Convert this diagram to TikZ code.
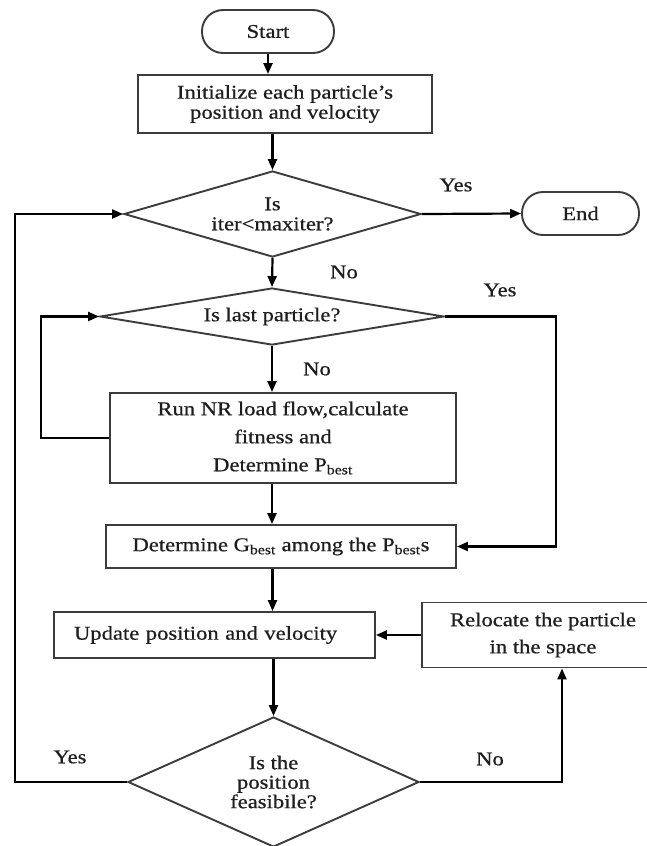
\documentclass[tikz,border=0pt]{standalone}
\usepackage{fontspec}
\setmainfont[FakeStretch=1.16,FakeBold=0.6]{Liberation Serif}
\usetikzlibrary{shapes.geometric,arrows.meta}
\definecolor{boxline}{HTML}{3C3C3C}
\definecolor{txt}{HTML}{1E1E1E}
\begin{document}
\begin{tikzpicture}[x=1pt,y=-1pt,
  every node/.style={text=txt,font=\fontsize{19.5}{20}\selectfont},
  base/.style={draw=boxline,line width=1.9pt,inner sep=0pt,align=center},
  proc/.style={base,rectangle},
  term/.style={base,rectangle,rounded corners=21pt},
  dec/.style={base,diamond},
  lbl/.style={inner sep=0pt},
  arr/.style={line width=2.2pt,draw=black,-{Triangle[length=11pt,width=9pt]}},
  ln/.style={line width=2.2pt,draw=black}]
\useasboundingbox[fill=white] (0,0) rectangle (647,846);
\node[term,minimum width=132pt,minimum height=43pt] (start) at (268,31.5) {Start};
\node[proc,minimum width=294pt,minimum height=58pt] (init) at (285,104) {Initialize each particle's\\position and velocity};
\node[dec,minimum width=297pt,minimum height=86pt,shape aspect=3.4] (d1) at (272.5,214) {Is\\iter<maxiter?};
\node[term,minimum width=117pt,minimum height=43pt] (end) at (580.5,213.5) {End};
\node[dec,minimum width=344pt,minimum height=57pt,shape aspect=6] (d2) at (272,316.5) {Is last particle?};
\node[proc,minimum width=346pt,minimum height=90pt,font=\fontsize{19.5}{28}\selectfont] (b3) at (283,438) {Run NR load flow,calculate\\fitness and\\Determine P\textsubscript{best}};
\node[proc,minimum width=350pt,minimum height=43pt] (gb) at (281,546.5) {Determine G\textsubscript{best} among the P\textsubscript{best}s};
\node[proc,minimum width=321pt,minimum height=46pt,inner xsep=20pt,text width=281pt,align=left] (up) at (214.5,635) {Update position and velocity};
\node[proc,minimum width=242pt,minimum height=65pt,font=\fontsize{19.5}{27}\selectfont] (rl) at (543,635) {Relocate the particle\\in the space};
\node[dec,minimum width=291pt,minimum height=130pt,shape aspect=2.24,font=\fontsize{19.5}{19.5}\selectfont] (d3) at (273.5,782) {Is the\\position\\feasibile?};
\node[lbl] (y1) at (456,185) {Yes};
\node[lbl] (n1) at (344,272) {No};
\node[lbl] (y2) at (500,290) {Yes};
\node[lbl] (n2) at (317,369) {No};
\node[lbl] (y3) at (70,757) {Yes};
\node[lbl] (n3) at (490,759) {No};
\coordinate (lft) at (15,0);
\coordinate (lp) at (41,0);
\coordinate (rgt) at (556,0);
\coordinate (nx) at (562,0);
\draw[arr] (start.south) -- (start.south |- init.north);
\draw[arr] (d1.north |- init.south) -- (d1.north);
\draw[arr] (d1.east) -- (end.west);
\draw[arr] (d1.south) -- (d2.north);
\draw[arr] (d2.south) -- (d2.south |- b3.north);
\draw[arr] (b3.west) -- (b3.west -| lp) |- (d2.west);
\draw[arr] (d2.east) -- (d2.east -| rgt) |- (gb.east);
\draw[arr] (d2.south |- b3.south) -- (d2.south |- gb.north);
\draw[arr] (d1.south |- gb.south) -- (d1.south |- up.north);
\draw[arr] (rl.west) -- (rl.west -| up.east);
\draw[arr] (d3.north |- up.south) -- (d3.north);
\draw[arr] (d3.east) -- (d3.east -| nx) -- (nx |- rl.south);
\draw[arr] (d3.west) -- (d3.west -| lft) -- (d1.west -| lft) -- (d1.west);
\end{tikzpicture}
\end{document}
